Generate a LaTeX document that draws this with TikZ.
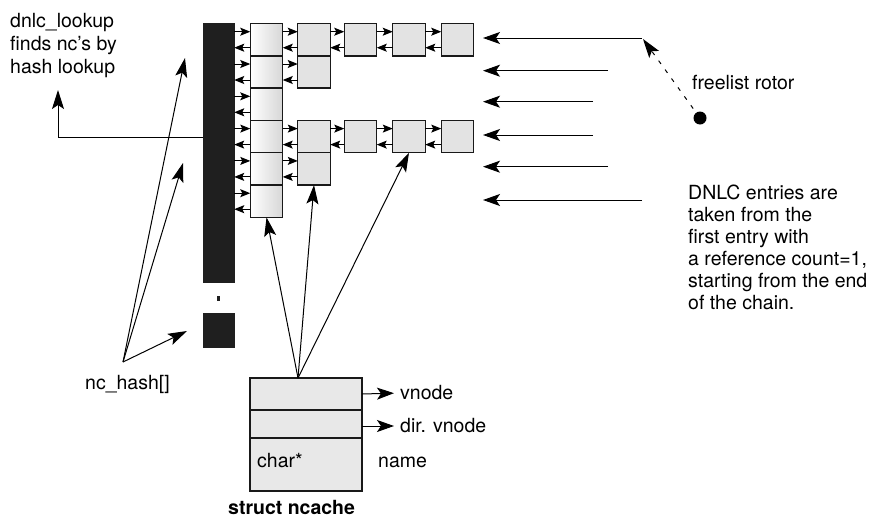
\documentclass[tikz,border=0pt]{standalone}
\usepackage{fontspec}
\setmainfont{TeX Gyre Heros}
\usetikzlibrary{arrows.meta,calc}
\begin{document}
\begin{tikzpicture}[x=1pt,y=-1pt,
  txt/.style={inner sep=0pt, anchor=base west, font=\fontsize{19.5}{22}\selectfont},
  cell/.style={draw=black!90, line width=1.4pt, fill=gray!22, minimum width=32.5pt, minimum height=32.3pt, inner sep=0pt, outer sep=0pt},
  headcell/.style={cell, left color=white, right color=gray!32},
  sarr/.style={-{Stealth[length=10pt,width=8pt,inset=2pt]}, line width=1pt},
  marr/.style={-{Stealth[length=17pt,width=12pt,inset=4pt]}, line width=1pt},
  barr/.style={-{Stealth[length=19pt,width=12pt,inset=4pt]}, line width=1pt},
  blk/.style={fill=black!88, draw=black!88, inner sep=0pt, outer sep=0pt},
  srow/.style={draw=black!90, line width=1.4pt, fill=gray!18, minimum width=112pt, inner sep=0pt, outer sep=0pt},
]
\useasboundingbox (0,0) rectangle (881,517);

% hash bar
\node[blk, minimum width=31pt, minimum height=259pt] (bar) at (218.5,152.5) {};
\node[blk, minimum width=2pt, minimum height=4pt] (gap) at (218.5,298.5) {};
\node[blk, minimum width=31pt, minimum height=34pt] (bar2) at (218.5,330) {};

% first column
\foreach \r/\y in {1/39.7,2/72,3/104.3,4/136.6,5/168.9,6/201.2}
  \node[headcell] (c1r\r) at (266.5,\y) {};
% chains
\node[cell] (c2r1) at (314,39.7) {};
\node[cell] (c2r2) at (314,72) {};
\node[cell] (c3r1) at (360.5,39.7) {};
\node[cell] (c4r1) at (409,39.7) {};
\node[cell] (c5r1) at (457.5,39.7) {};
\node[cell] (c2r4) at (314,136.6) {};
\node[cell] (c2r5) at (314,168.9) {};
\node[cell] (c3r4) at (360.5,136.6) {};
\node[cell] (c4r4) at (409,136.6) {};
\node[cell] (c5r4) at (457.5,136.6) {};

% bar <-> first column
\foreach \r in {1,...,6}{
  \draw[sarr] ($(c1r\r.west)+(-16,-8)$) -- ($(c1r\r.west)+(0,-8)$);
  \draw[sarr] ($(c1r\r.west)+(0,8)$) -- ($(c1r\r.west)+(-16,8)$);
}
% chain links
\foreach \a/\b in {c1r1/c2r1,c2r1/c3r1,c3r1/c4r1,c4r1/c5r1,c1r2/c2r2,
                   c1r4/c2r4,c2r4/c3r4,c3r4/c4r4,c4r4/c5r4,c1r5/c2r5}{
  \draw[sarr] ($(\a.east)+(0,-8)$) -- ($(\b.west)+(0,-8)$);
  \draw[sarr] ($(\b.west)+(0,8)$) -- ($(\a.east)+(0,8)$);
}

% free list arrows
\foreach \i/\y/\e in {1/38/642,2/70.7/608,3/101.7/593,4/135/593,5/166.7/608,6/200/642}{
  \coordinate (fe\i) at (\e,\y);
  \coordinate (ft\i) at (483,\y);
  \draw[marr] (fe\i) -- (ft\i);
}

% freelist rotor
\node[circle, fill=black, minimum size=13pt, inner sep=0pt] (rotor) at (700,118) {};
\coordinate (rtip) at (643,39);
\draw[barr, dash pattern=on 4pt off 7pt, shorten <=5pt] (rotor) -- (rtip);
\node[txt] (rotlbl) at (692,89) {freelist rotor};

% DNLC text
\node[txt] (d1) at (688,199) {DNLC entries are};
\node[txt] (d2) at (688,221) {taken from the};
\node[txt] (d3) at (688,243) {first entry with};
\node[txt] (d4) at (688,265) {a reference count=1,};
\node[txt] (d5) at (688,287) {starting from the end};
\node[txt] (d6) at (688,309) {of the chain.};

% dnlc_lookup
\node[txt] (l1) at (10,27) {dnlc\_lookup};
\node[txt] (l2) at (10,50) {finds nc's by};
\node[txt] (l3) at (10,73) {hash lookup};
\coordinate (elb) at (58,137);
\coordinate (ltip) at (58,90);
\draw[barr] (bar.west |- elb) -- (elb) -- (ltip);

% nc_hash
\node[txt] (nhl) at (85,389) {nc\_hash[]};
\coordinate (nh) at (123,362);
\coordinate (nt1) at (185,58);
\coordinate (nt2) at (183,163);
\coordinate (nt3) at (187,331);
\draw[barr] (nh) -- (nt1);
\draw[barr] (nh) -- (nt2);
\draw[barr] (nh) -- (nt3);

% struct ncache
\node[srow, minimum height=32pt] (s1) at (306,394) {};
\node[srow, minimum height=28pt] (s2) at (306,424) {};
\node[srow, minimum height=53pt] (s3) at (306,464.5) {};
\node[txt] (chr) at (257,467) {char*};
\node[txt] (nm) at (378,467) {name};
\node[txt, font=\fontsize{19.5}{22}\selectfont\bfseries] (sn) at (228,514) {struct ncache};
\node[txt, anchor=west] (vn) at (400,393) {vnode};
\node[txt, anchor=west] (dvn) at (400,426) {dir. vnode};
\draw[marr, shorten >=6pt] (s1.east) -- (vn.west);
\draw[marr, shorten >=6pt] (s2.east |- dvn.west) -- (dvn.west);

\coordinate (src) at ($(s1.north west)+(48,0)$);
\draw[barr] (src) -- (c1r6.south);
\draw[barr] (src) -- (c2r5.south);
\draw[barr] (src) -- (c4r4.south);
\end{tikzpicture}
\end{document}
